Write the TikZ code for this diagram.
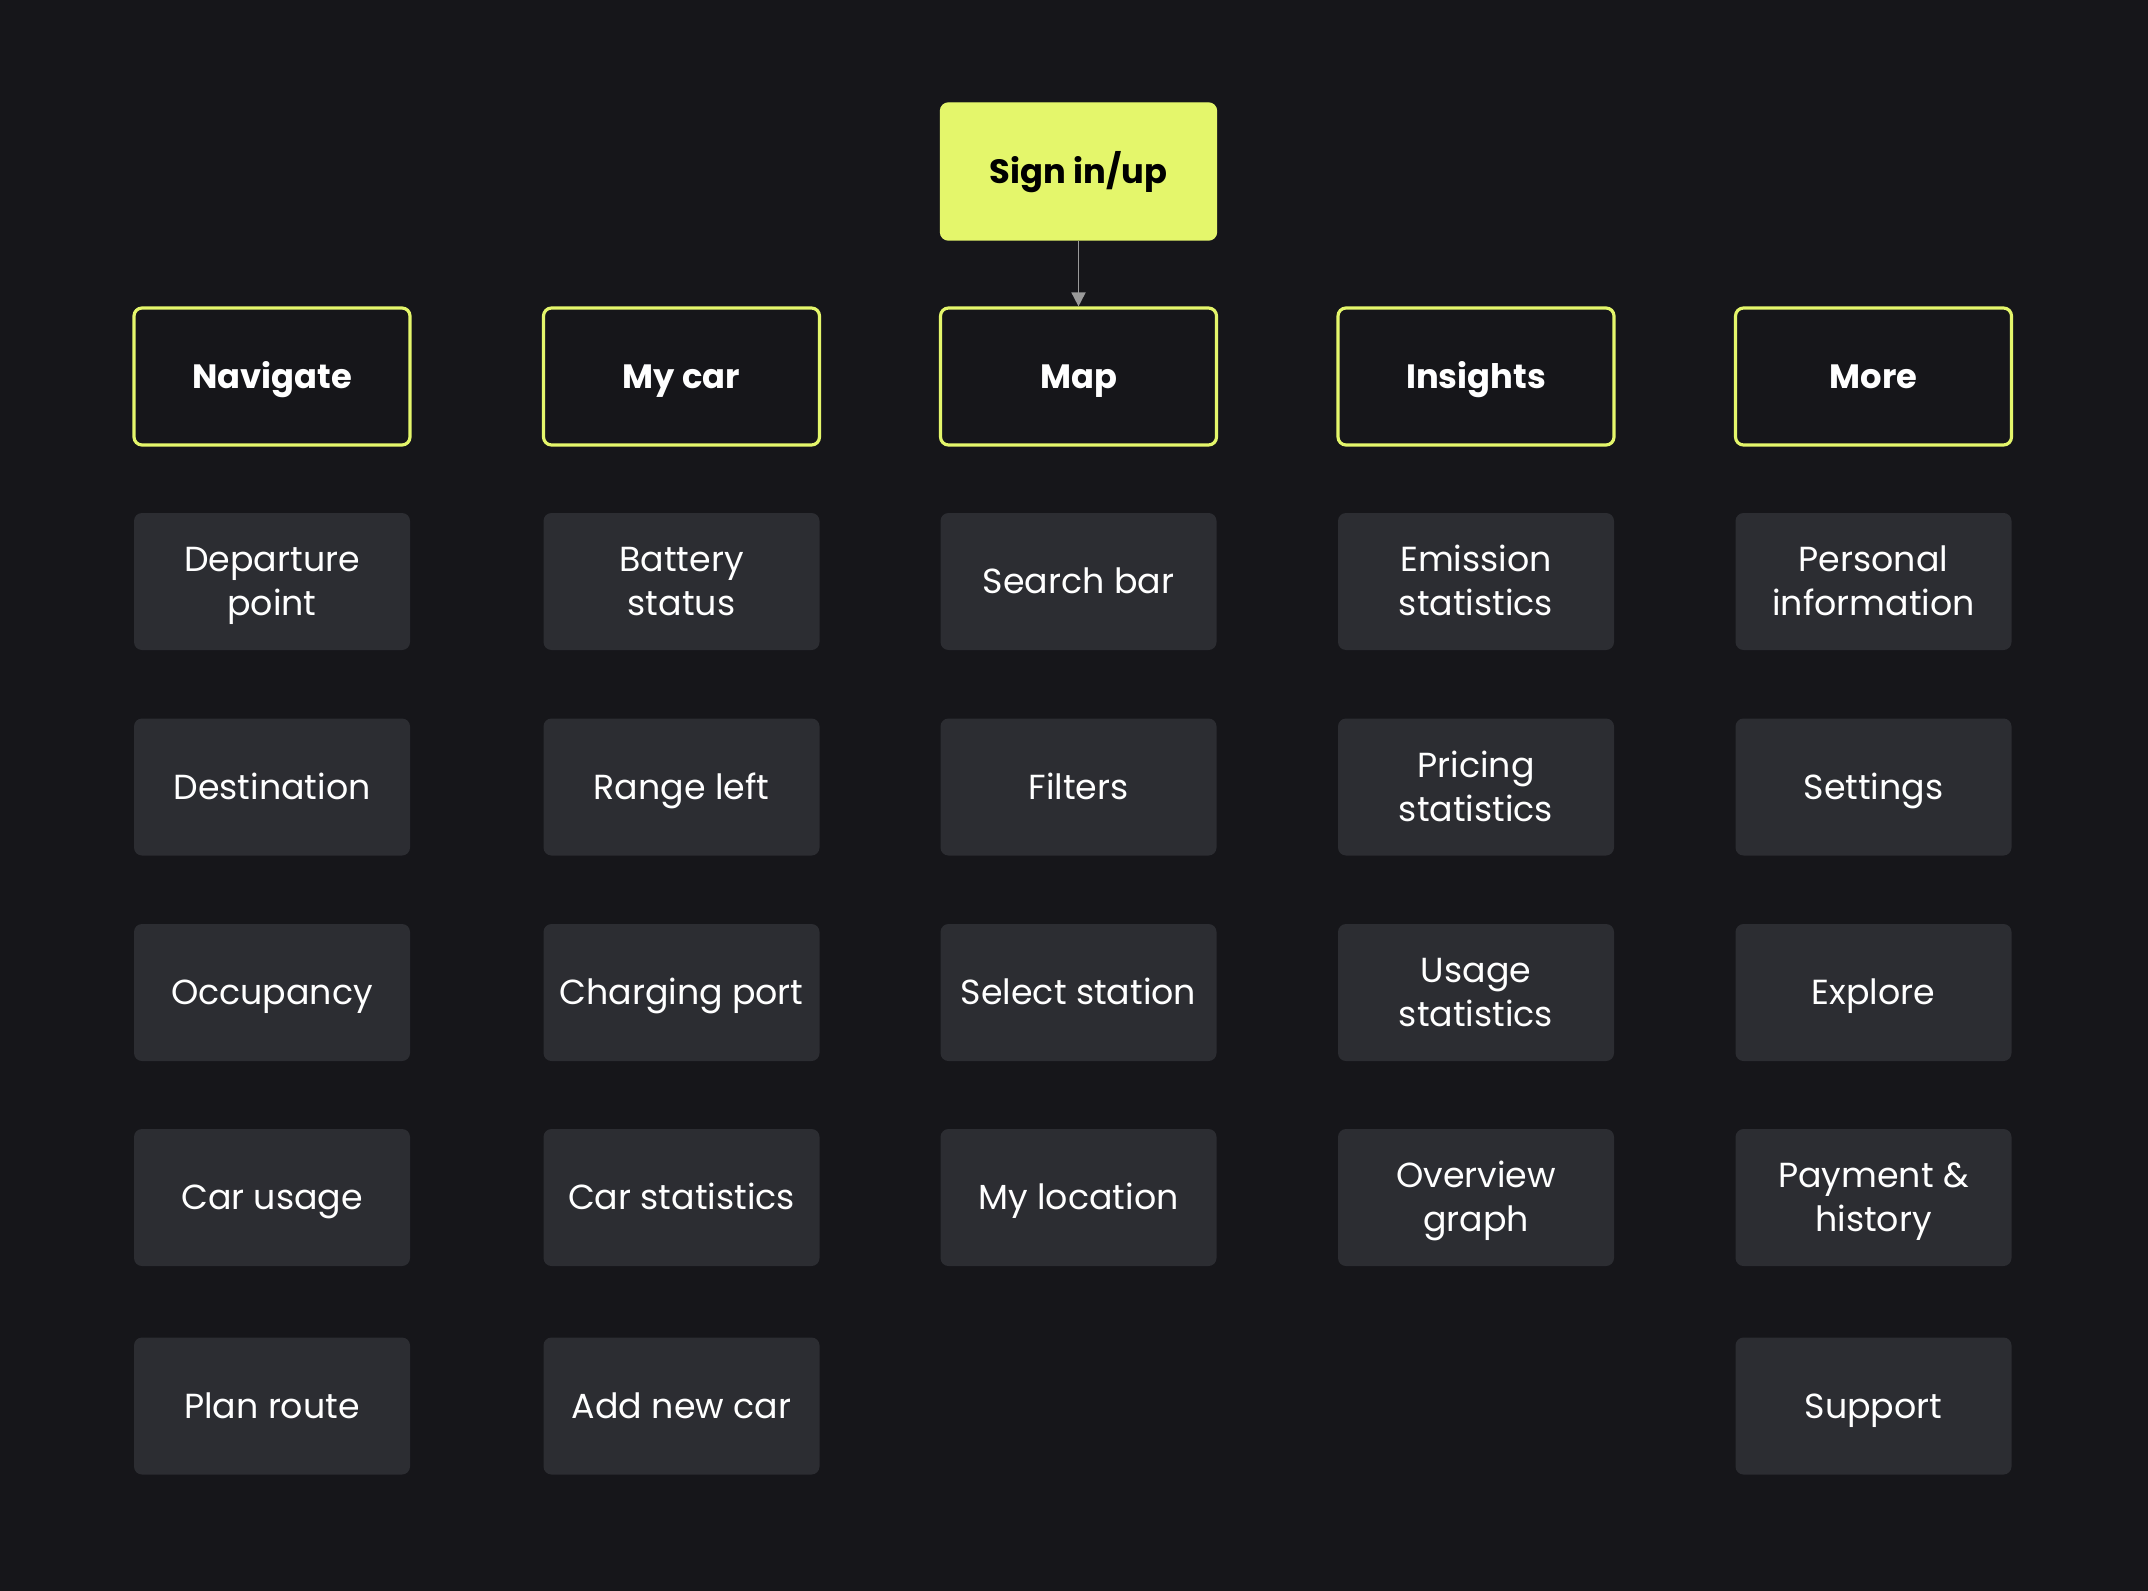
\documentclass[tikz,border=0pt]{standalone}
\usepackage{fontspec}
\setmainfont{Poppins}
\usepackage{xcolor}
\usepackage{tikz}
\usetikzlibrary{positioning, shapes, calc, arrows.meta}
\definecolor{bgcolor}{HTML}{16161A}
\definecolor{limecolor}{HTML}{E4F66B}
\definecolor{itemcolor}{HTML}{2C2D32}
\definecolor{arrowcolor}{HTML}{9A9A9A}

\begin{document}
\begin{tikzpicture}
	\tikzstyle{basebox}=[rectangle, rounded corners=0.08cm, minimum width=2.76cm, minimum height=1.37cm, inner sep=0pt, align=center, text height=6.9pt, text depth=0pt, font=\fontsize{9.9}{12.5}\selectfont]
	\tikzstyle{signbox}=[basebox, fill=limecolor, draw=limecolor, text=black, font=\fontsize{9.6}{12.5}\selectfont\bfseries]
	\tikzstyle{tabbox}=[basebox, fill=bgcolor, draw=limecolor, line width=0.9pt, text=white, font=\fontsize{9.6}{12.5}\selectfont\bfseries]
	\tikzstyle{itembox}=[basebox, fill=itemcolor, text=white]
	\tikzstyle{itembox2}=[itembox, text height=19.4pt]
	\fill[bgcolor] (0,0) rectangle (21.48,-15.91);
	\useasboundingbox (0,0) rectangle (21.48,-15.91);
	
	\node (sign) at (10.785,-1.715) [signbox]{Sign in/up};
	
	\node (nav) at (2.72,-3.765) [tabbox]{Navigate};
	\node (car) at (6.815,-3.765) [tabbox]{My car};
	\node (map) at (10.785,-3.765) [tabbox]{Map};
	\node (ins) at (14.76,-3.765) [tabbox]{Insights};
	\node (more) at (18.735,-3.765) [tabbox]{More};
	
	\draw[arrowcolor, line width=0.5pt, -{Triangle[length=4pt, width=4pt]}] (sign) -- (map);
	
	% Navigate
	\node (nav1) at (2.72,-5.815) [itembox2]{Departure\\point};
	\node (nav2) at (2.72,-7.87) [itembox]{Destination};
	\node (nav3) at (2.72,-9.925) [itembox]{Occupancy};
	\node (nav4) at (2.72,-11.975) [itembox]{Car usage};
	\node (nav5) at (2.72,-14.06) [itembox]{Plan route};
	
	% My car
	\node (car1) at (6.815,-5.815) [itembox2]{Battery\\status};
	\node (car2) at (6.815,-7.87) [itembox]{Range left};
	\node (car3) at (6.815,-9.925) [itembox]{Charging port};
	\node (car4) at (6.815,-11.975) [itembox]{Car statistics};
	\node (car5) at (6.815,-14.06) [itembox]{Add new car};
	
	% Map
	\node (map1) at (10.785,-5.815) [itembox]{Search bar};
	\node (map2) at (10.785,-7.87) [itembox]{Filters};
	\node (map3) at (10.785,-9.925) [itembox]{Select station};
	\node (map4) at (10.785,-11.975) [itembox]{My location};
	
	% Insights
	\node (ins1) at (14.76,-5.815) [itembox2]{Emission\\statistics};
	\node (ins2) at (14.76,-7.87) [itembox2]{Pricing\\statistics};
	\node (ins3) at (14.76,-9.925) [itembox2]{Usage\\statistics};
	\node (ins4) at (14.76,-11.975) [itembox2]{Overview\\graph};
	
	% More
	\node (more1) at (18.735,-5.815) [itembox2]{Personal\\information};
	\node (more2) at (18.735,-7.87) [itembox]{Settings};
	\node (more3) at (18.735,-9.925) [itembox]{Explore};
	\node (more4) at (18.735,-11.975) [itembox2]{Payment \&\\history};
	\node (more5) at (18.735,-14.06) [itembox]{Support};
	
\end{tikzpicture}
\end{document}
